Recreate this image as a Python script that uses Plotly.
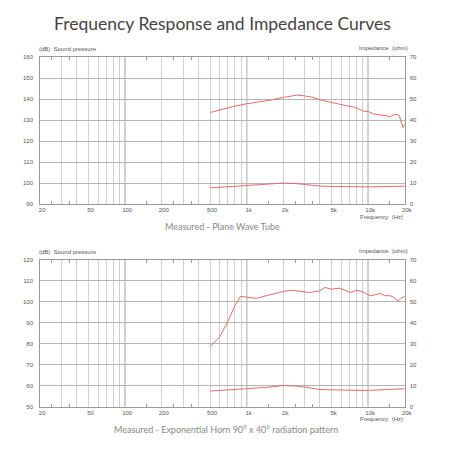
import plotly.graph_objects as go

W, H = 452, 452

# ---- data ----
freq_spl_top = [500, 600, 700, 800, 900, 1000, 1250, 1500, 2000, 2300, 2600, 3000, 3500, 4100,
                5000, 6300, 7000, 7700, 8500, 9200, 10000, 11000, 12500, 14000, 15000, 16500,
                17500, 18000, 18700, 19300, 20000]
spl_top = [133.7, 135.0, 136.0, 136.8, 137.3, 137.9, 138.7, 139.4, 140.9, 141.5, 142.0, 141.6,
           140.9, 139.6, 138.4, 137.3, 136.6, 136.3, 135.3, 134.3, 134.2, 133.0, 132.5, 132.3,
           131.5, 132.9, 132.6, 132.4, 129.0, 126.6, 128.2]

freq_imp = [500, 700, 1000, 1500, 2000, 2500, 3000, 4000, 5000, 7000, 10000, 15000, 20000]
imp_top = [7.8, 8.4, 8.9, 9.6, 10.1, 9.9, 9.4, 8.7, 8.5, 8.3, 8.3, 8.5, 8.6]

freq_spl_bot = [500, 600, 700, 800, 890, 1000, 1200, 1500, 2000, 2350, 2800, 3300, 4000, 4400,
                5000, 5800, 6400, 7100, 8100, 9000, 10000, 10600, 12500, 13700, 15000, 16000,
                17600, 18600, 20000]
spl_bot = [78.5, 83.2, 90.5, 98.0, 102.5, 102.0, 101.5, 103.0, 104.8, 105.4, 105.0, 104.3, 105.1,
           106.7, 105.9, 106.4, 105.5, 104.3, 105.4, 104.6, 103.2, 102.7, 103.9, 102.8, 102.8,
           102.3, 100.1, 101.5, 102.5]
imp_bot = [7.4, 8.1, 8.5, 9.2, 10.0, 9.8, 9.3, 8.1, 7.9, 7.8, 7.7, 8.3, 8.5]

grid_freqs = [20, 30, 40, 50, 60, 70, 80, 90, 100, 200, 300, 400, 500, 600, 700, 800, 900,
              1000, 2000, 3000, 4000, 5000, 6000, 7000, 8000, 9000, 10000, 20000]
freq_labels = {20: "20", 50: "50", 100: "100", 200: "200", 500: "500", 1000: "1k",
               2000: "2k", 5000: "5k", 10000: "10k", 20000: "20k"}
minor_freqs = [25, 35, 150, 250, 350, 1500, 2500, 3500, 15000]
decade_lines = [100, 1000, 10000]

title_text = "Frequency Response and Impedance Curves"
sub_top = "Measured - Plane Wave Tube"
sub_bot = "Measured - Exponential Horn 90° x 40° radiation pattern"

# ---- layout helpers ----
def px(x):
    return x / W

def py(y):
    return 1 - y / H

LINE = "#e8696a"
TICKFONT = dict(family="Liberation Sans, Arial", size=6, color="#555")
GRID_H = "#b4b4b4"
GRID_V = "#d0d0d0"
XL, XR = 40, 412

panels = [
    dict(top=55, bot=204, yr=[90, 160], f_spl=freq_spl_top, spl=spl_top, imp=imp_top),
    dict(top=260, bot=409, yr=[50, 120], f_spl=freq_spl_bot, spl=spl_bot, imp=imp_bot),
]

fig = go.Figure()
ann = []
shapes = []
for i, p in enumerate(panels):
    n = i + 1
    xa = "x" if n == 1 else f"x{n}"
    ya_l = f"y{2*n-1}" if n > 1 else "y"
    ya_r = f"y{2*n}"
    fig.add_trace(go.Scatter(x=p["f_spl"], y=p["spl"], xaxis=xa, yaxis=ya_l, mode="lines",
                             line=dict(color=LINE, width=1), showlegend=False, hoverinfo="skip"))
    fig.add_trace(go.Scatter(x=freq_imp, y=p["imp"], xaxis=xa, yaxis=ya_r, mode="lines",
                             line=dict(color=LINE, width=1), showlegend=False, hoverinfo="skip"))
    xdom = [px(XL), px(XR)]
    ydom = [py(p["bot"]), py(p["top"])]
    xkey = "xaxis" if n == 1 else f"xaxis{n}"
    ylkey = "yaxis" if n == 1 else f"yaxis{2*n-1}"
    yrkey = f"yaxis{2*n}"
    fig.layout[xkey] = dict(
        type="log", range=[1.30103, 4.30103], domain=xdom, anchor=ya_l,
        tickvals=grid_freqs, ticktext=[freq_labels.get(f, "") for f in grid_freqs],
        showgrid=True, gridcolor=GRID_V, gridwidth=1.3, ticks="", tickfont=TICKFONT,
        ticklabelshift=2, ticklabelstandoff=0,
        showline=True, linecolor="#999", linewidth=1, mirror="ticks", zeroline=False,
        minor=dict(tickvals=minor_freqs, ticks="inside", ticklen=3, tickcolor="#999",
                   showgrid=False),
    )
    fig.layout[ylkey] = dict(
        range=p["yr"], domain=ydom, anchor=xa, dtick=10, showgrid=True, gridcolor=GRID_H,
        gridwidth=1, ticks="", tickfont=TICKFONT, showline=True, linecolor="#999",
        linewidth=1, mirror=True, zeroline=False, ticklabelstandoff=5,
    )
    fig.layout[yrkey] = dict(
        range=[0, 70], overlaying=ya_l, side="right", anchor=xa, dtick=10, showgrid=False,
        ticks="", tickfont=TICKFONT, zeroline=False, ticklabelstandoff=4,
    )
    for d in decade_lines:
        shapes.append(dict(type="line", xref=xa, yref=f"{ya_l} domain", x0=d, x1=d, y0=0, y1=1,
                           line=dict(color="#8c8c8c", width=1.2), layer="below"))
    ann.append(dict(text="(dB)  Sound pressure", x=px(37), y=py(p["top"] - 8), xref="paper",
                    yref="paper", xanchor="left", yanchor="middle", showarrow=False,
                    font=TICKFONT))
    ann.append(dict(text="Impedance  (ohm)", x=px(417), y=py(p["top"] - 9), xref="paper",
                    yref="paper", xanchor="right", yanchor="middle", showarrow=False,
                    font=TICKFONT))
    ann.append(dict(text="Frequency  (Hz)", x=px(412), y=py(p["bot"] + 13), xref="paper",
                    yref="paper", xanchor="right", yanchor="middle", showarrow=False,
                    font=TICKFONT))

ann.append(dict(text=title_text, x=0.5, y=py(21), xref="paper", yref="paper", xanchor="center",
                yanchor="middle", showarrow=False,
                font=dict(family="Lato", size=17.5, color="#444")))
ann.append(dict(text=sub_top, x=px(226), y=py(227), xref="paper", yref="paper",
                xanchor="center", yanchor="middle", showarrow=False,
                font=dict(family="Lato", size=9, color="#888")))
ann.append(dict(text=sub_bot, x=px(230), y=py(432), xref="paper", yref="paper",
                xanchor="center", yanchor="middle", showarrow=False,
                font=dict(family="Lato", size=9, color="#888")))

fig.update_layout(width=W, height=H, margin=dict(l=0, r=0, t=0, b=0),
                  paper_bgcolor="white", plot_bgcolor="white",
                  annotations=ann, shapes=shapes, showlegend=False)
fig.write_html("out.html")
